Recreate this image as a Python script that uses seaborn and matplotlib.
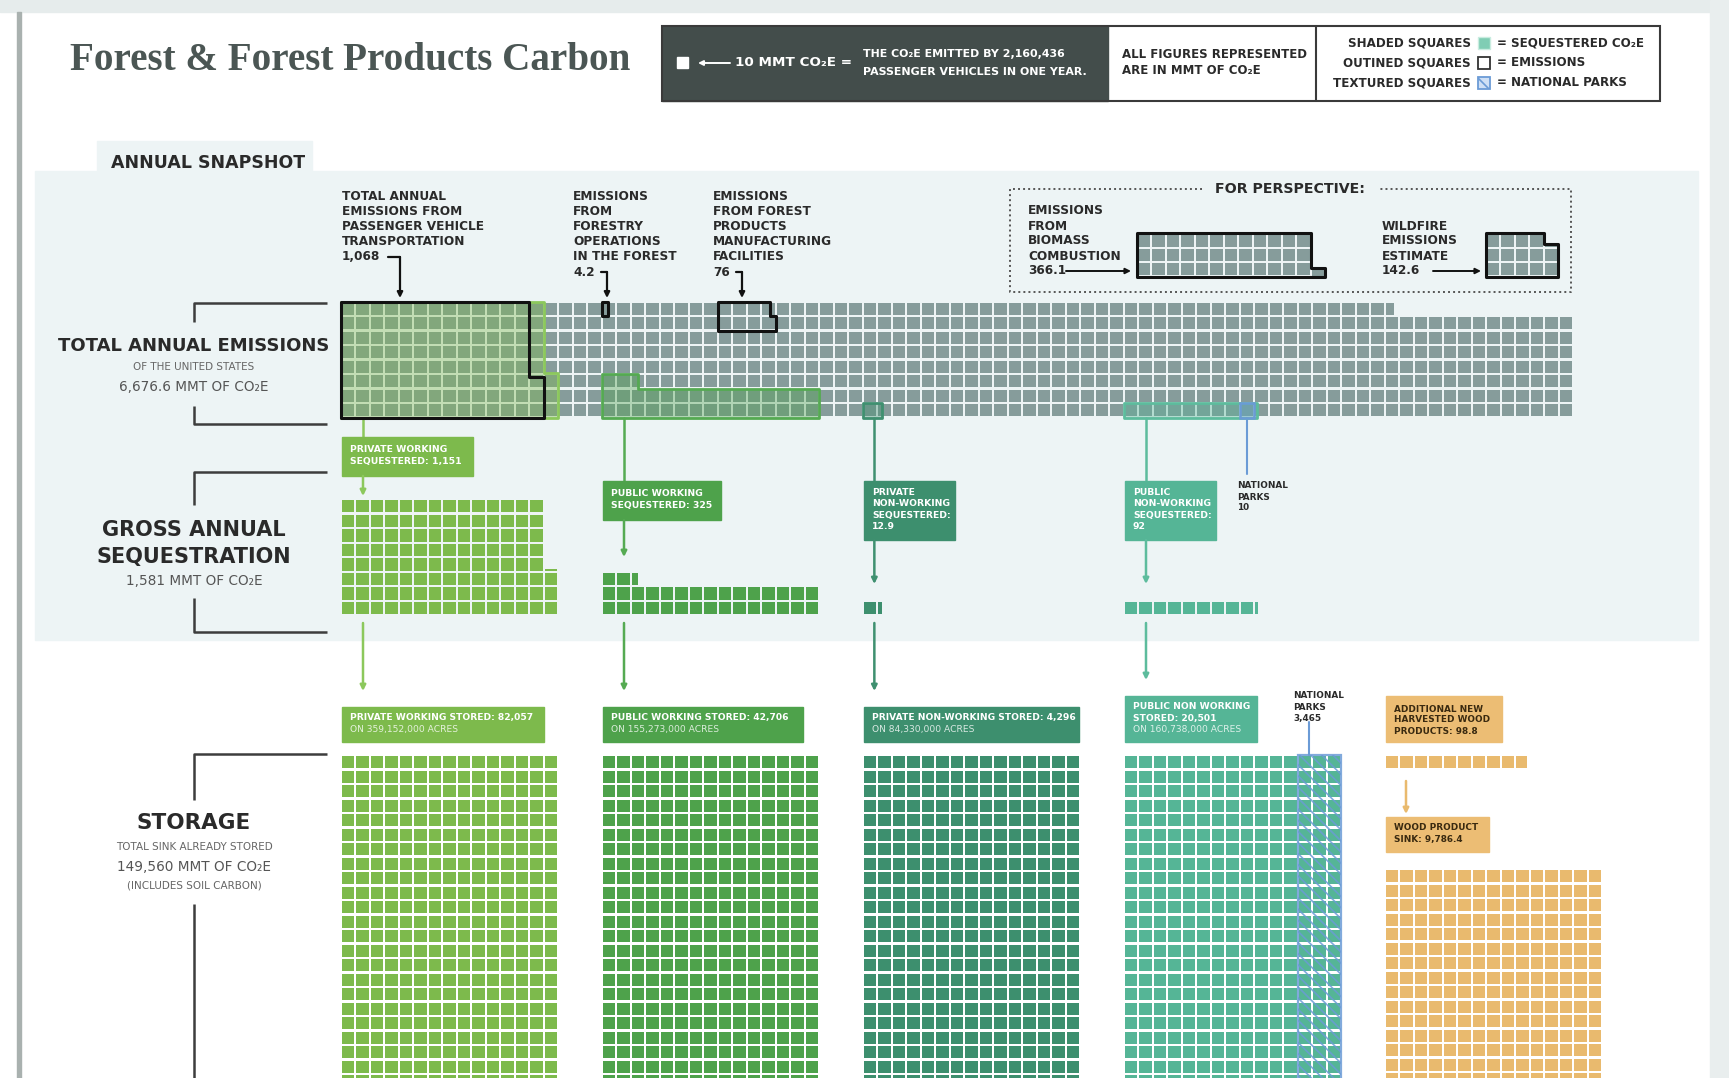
import numpy as np
import pandas as pd
import matplotlib.pyplot as plt
from matplotlib.patches import Rectangle, Polygon
import seaborn as sns

# All figures in MMT of CO2e, one square = 10 MMT
unit = 10
total_emissions = 6676.6
emission_values = [1068, 4.2, 76]          # passenger vehicles, forestry ops, forest products mfg
perspective_values = [366.1, 142.6]        # biomass combustion, wildfire
land_types = ['PRIVATE WORKING', 'PUBLIC WORKING', 'PRIVATE NON-WORKING', 'PUBLIC NON-WORKING']
sequestered = [1151, 325, 12.9, 92]
stored = [82057, 42706, 4296, 20501]
acres = [359152000, 155273000, 84330000, 160738000]
parks_sequestered = 10
parks_stored = 3465
wood_new = 98.8
wood_sink = 9786.4
gross_sequestration = 1581
total_stored = 149560

land_colors = ['#7dba4c', '#4ea24b', '#3d8f6e', '#55b596']
line_colors = ['#8cc85c', '#55aa52', '#3f9070', '#5dbc9d']
emis_color = '#869c9b'
parks_color = '#6b9bd6'
wood_color = '#e9ba6e'
dark = '#2a2a2a'


def fmt(v):
    return f"{v:,}"


sns.set_style('white')
plt.rcParams['font.family'] = ['DejaVu Sans']
plt.rcParams['hatch.linewidth'] = 1.2
plt.rcParams['hatch.color'] = parks_color

W, H = 1729, 1078
P, S = 14.5, 12.3          # square pitch and side (px)
G = P - S

fig = plt.figure(figsize=(W / 100, H / 100), dpi=100)
ax = fig.add_axes([0, 0, 1, 1])

# page background
ax.add_patch(Rectangle((0, 0), W, 12, color='#e6ecec', zorder=0))
ax.add_patch(Rectangle((1710, 0), 19, H, color='#e9eeee', zorder=0))
ax.add_patch(Rectangle((17, 12), 4, H, color='#a9b1af', zorder=0))
ax.add_patch(Rectangle((35, 171), 1663, 469, color='#edf4f5', zorder=0))
ax.add_patch(Rectangle((97, 141), 215, 35, color='#edf4f5', zorder=0))

recs = []
parts = []


def place(n, span, order, x0, y0, c0=0, r0=0, up=True, group=''):
    full = int(n)
    frac = n - full
    count = full + (1 if frac > 0.01 else 0)
    for i in range(count):
        f = 1.0 if i < full else frac
        if order == 'row':
            c, r = i % span, i // span
        else:
            c, r = i // span, i % span
        c += c0
        r += r0
        left = x0 + c * P
        top = y0 - r * P - S if up else y0 + r * P
        if top > H:
            break
        if f == 1.0:
            recs.append((left + S / 2, top + S / 2, group))
        elif order == 'row':
            parts.append((left, top, f * S, S, group))
        else:
            parts.append((left, top + (1 - f) * S, S, f * S, group))


def outline(n, span, order, x0, y0, c0=0, r0=0):
    k = int(n // span)
    rem = n - k * span
    if order == 'row':
        if k == 0:
            pts = [(0, 0), (rem, 0), (rem, 1), (0, 1)]
        elif rem < 0.01:
            pts = [(0, 0), (span, 0), (span, k), (0, k)]
        else:
            pts = [(0, 0), (span, 0), (span, k), (rem, k), (rem, k + 1), (0, k + 1)]
    else:
        if k == 0:
            pts = [(0, 0), (1, 0), (1, rem), (0, rem)]
        elif rem < 0.01:
            pts = [(0, 0), (k, 0), (k, span), (0, span)]
        else:
            pts = [(0, 0), (k + 1, 0), (k + 1, rem), (k, rem), (k, span), (0, span)]
    return [(x0 + (c0 + a) * P - G / 2, y0 + G / 2 - (r0 + b) * P) for a, b in pts]


groups = ['pw', 'puw', 'pnw', 'punw']
block_cols = [0, 18, 36, 54]
seq_layout = [('col', 8), ('row', 15), ('row', 15), ('row', 15)]
X0 = 342
EMIS_Y = 416.5
SEQ_Y = 614
STORE_Y = 756

# emissions grid
place(total_emissions / unit, 85, 'row', X0, EMIS_Y, group='emis')
# gross sequestration and storage grids
for k in range(4):
    order, span = seq_layout[k]
    place(sequestered[k] / unit, span, order, X0, SEQ_Y, c0=block_cols[k], group=groups[k])
    place(stored[k] / unit, 15, 'row', X0, STORE_Y, c0=block_cols[k], up=False, group=groups[k])
# wood products
place(wood_new / unit, 15, 'row', X0, STORE_Y, c0=72, up=False, group='wood')
place(wood_sink / unit, 15, 'row', X0, 870, c0=72, up=False, group='wood')
# perspective grids
BIO_X, FIRE_X, PERS_Y = 1138, 1487, 275.5
place(perspective_values[0] / unit, 3, 'col', BIO_X, PERS_Y, group='emis')
place(perspective_values[1] / unit, 3, 'col', FIRE_X, PERS_Y, group='emis')

pal = {'emis': emis_color, 'wood': wood_color}
pal.update(dict(zip(groups, land_colors)))

df = pd.DataFrame(recs, columns=['x', 'y', 'group'])
sns.scatterplot(data=df, x='x', y='y', hue='group', palette=pal, marker='s',
                s=(S * 0.72) ** 2, linewidth=0, legend=False, ax=ax, zorder=2)
for left, top, w, h, g in parts:
    ax.add_patch(Rectangle((left, top), w, h, color=pal[g], lw=0, zorder=2))

# sequestration overlays on emissions grid
for k in range(4):
    order, span = seq_layout[k]
    pts = outline(sequestered[k] / unit, span, order, X0, EMIS_Y, c0=block_cols[k])
    ax.add_patch(Polygon(pts, closed=True, facecolor=land_colors[k], alpha=0.38, edgecolor='none', zorder=3))
    ax.add_patch(Polygon(pts, closed=True, fill=False, edgecolor=line_colors[k], lw=2, joinstyle='round', zorder=4))

parks_col = block_cols[3] + int(sequestered[3] / unit) - 1
pts = outline(parks_sequestered / unit, 15, 'row', X0, EMIS_Y, c0=parks_col)
ax.add_patch(Polygon(pts, closed=True, facecolor=parks_color, alpha=0.3, edgecolor='none', zorder=4))
ax.add_patch(Polygon(pts, closed=True, fill=False, edgecolor=parks_color, lw=1.8, zorder=4))

# emission source outlines
src_layout = [(0, 0, 'col', 8), (18, 7, 'row', 15), (26, 6, 'row', 4)]
for v, (c0, r0, order, span) in zip(emission_values, src_layout):
    pts = outline(v / unit, span, order, X0, EMIS_Y, c0=c0, r0=r0)
    ax.add_patch(Polygon(pts, closed=True, fill=False, edgecolor='#111111', lw=2.2, joinstyle='round', zorder=5))
for v, x0 in zip(perspective_values, [BIO_X, FIRE_X]):
    pts = outline(v / unit, 3, 'col', x0, PERS_Y)
    ax.add_patch(Polygon(pts, closed=True, fill=False, edgecolor='#111111', lw=2.2, joinstyle='round', zorder=5))

# national parks hatched storage columns
np_cols = round(15 * parks_stored / stored[3])
hx0 = X0 + (block_cols[3] + 15 - np_cols) * P - G / 2
ax.add_patch(Rectangle((hx0, STORE_Y - G / 2), np_cols * P, H, facecolor='none', edgecolor=parks_color,
                       hatch='\\\\\\', lw=1.6, alpha=0.85, zorder=4))


def lines(x, y0, step, txt, **kw):
    for i, t in enumerate(txt.split('\n')):
        ax.text(x, y0 + i * step, t, va='center', zorder=6, **kw)


def arrow(x0, y0, x1, y1, color, lw=1.5, ms=9):
    ax.annotate('', xy=(x1, y1), xytext=(x0, y0), zorder=6,
                arrowprops=dict(arrowstyle='-|>', color=color, lw=lw, mutation_scale=ms, shrinkA=0, shrinkB=0))


# title and legend bar
ax.text(70, 60, 'Forest & Forest Products Carbon', family='Liberation Serif', fontsize=28.2,
        fontweight='bold', color='#4b5654', va='center', ha='left')
ax.add_patch(Rectangle((662, 26), 446, 75, color='#434d4b', zorder=1))
ax.add_patch(Rectangle((662, 26), 998, 75, fill=False, edgecolor='#3a3a3a', lw=1.5, zorder=2))
ax.plot([1316, 1316], [26, 101], color='#3a3a3a', lw=1.5, zorder=2)
ax.add_patch(Rectangle((677, 57), 11, 11, color='white', zorder=3))
arrow(730, 63, 698, 63, 'white', lw=1.4, ms=7)
ax.text(735, 63, f'{unit} MMT CO₂E =', color='white', fontsize=9.7, fontweight='bold', va='center', zorder=6)
lines(863, 54, 18, 'THE CO₂E EMITTED BY 2,160,436\nPASSENGER VEHICLES IN ONE YEAR.',
      color='white', fontsize=7.9, fontweight='bold')
lines(1122, 54, 17, 'ALL FIGURES REPRESENTED\nARE IN MMT OF CO₂E', color=dark, fontsize=8.5, fontweight='bold')
leg_rows = [('SHADED SQUARES', '= SEQUESTERED CO₂E'), ('OUTINED SQUARES', '= EMISSIONS'),
            ('TEXTURED SQUARES', '= NATIONAL PARKS')]
for i, (a, b) in enumerate(leg_rows):
    y = 43 + i * 20
    ax.text(1471, y, a, ha='right', va='center', fontsize=8.6, fontweight='bold', color=dark, zorder=6)
    ax.text(1497, y, b, ha='left', va='center', fontsize=8.6, fontweight='bold', color=dark, zorder=6)
ax.add_patch(Rectangle((1478, 37), 12, 12, facecolor='#80cdb4', edgecolor='#c9ece0', lw=1, zorder=6))
ax.add_patch(Rectangle((1478, 57), 12, 12, facecolor='white', edgecolor='#333333', lw=1.3, zorder=6))
ax.add_patch(Rectangle((1478, 77), 12, 12, facecolor='#cfe0f5', edgecolor=parks_color, hatch='\\\\',
                       lw=1.3, zorder=6))

# section headings
ax.text(111, 163, 'ANNUAL SNAPSHOT', fontsize=12.5, fontweight='bold', color=dark, va='center', zorder=6)


def bracket(y_top, y_mid_top, y_mid_bot, y_bot):
    kw = dict(color='#3d3d3d', lw=1.8, zorder=6, solid_capstyle='butt')
    ax.plot([327, 194, 194], [y_top, y_top, y_mid_top], **kw)
    if y_bot is not None:
        ax.plot([194, 194, 327], [y_mid_bot, y_bot, y_bot], **kw)
    else:
        ax.plot([194, 194], [y_mid_bot, H], **kw)


bracket(303, 322, 406, 424)
ax.text(194, 346, 'TOTAL ANNUAL EMISSIONS', ha='center', va='center', fontsize=13, fontweight='bold', color=dark)
ax.text(194, 367, 'OF THE UNITED STATES', ha='center', va='center', fontsize=7.5, color='#666666')
ax.text(194, 387, f'{fmt(total_emissions)} MMT OF CO₂E', ha='center', va='center', fontsize=9.8, color='#555555')

bracket(472, 505, 598, 632)
ax.text(194, 530, 'GROSS ANNUAL', ha='center', va='center', fontsize=15, fontweight='bold', color=dark)
ax.text(194, 557, 'SEQUESTRATION', ha='center', va='center', fontsize=15, fontweight='bold', color=dark)
ax.text(194, 581, f'{fmt(gross_sequestration)} MMT OF CO₂E', ha='center', va='center', fontsize=9.8,
        color='#555555')

bracket(754, 800, 904, None)
ax.text(194, 823, 'STORAGE', ha='center', va='center', fontsize=15.5, fontweight='bold', color=dark)
ax.text(194, 847, 'TOTAL SINK ALREADY STORED', ha='center', va='center', fontsize=7.5, color='#666666')
ax.text(194, 867, f'{fmt(total_stored)} MMT OF CO₂E', ha='center', va='center', fontsize=9.8, color='#555555')
ax.text(194, 885, '(INCLUDES SOIL CARBON)', ha='center', va='center', fontsize=7.5, color='#666666')

# emission source annotations
small = dict(fontsize=8.7, fontweight='bold', color=dark)
lines(342, 196, 15.2, 'TOTAL ANNUAL\nEMISSIONS FROM\nPASSENGER VEHICLE\nTRANSPORTATION\n'
      + fmt(emission_values[0]), **small)
lines(573, 196, 15.2, 'EMISSIONS\nFROM\nFORESTRY\nOPERATIONS\nIN THE FOREST\n' + fmt(emission_values[1]), **small)
lines(713, 196, 15.2, 'EMISSIONS\nFROM FOREST\nPRODUCTS\nMANUFACTURING\nFACILITIES\n' + fmt(emission_values[2]),
      **small)
for (xa, xb, y) in [(388, 400, 257), (601, 607, 272), (736, 742, 272)]:
    ax.plot([xa, xb], [y, y], color='#111111', lw=1.6, zorder=6)
    arrow(xb, y, xb, 298, '#111111', lw=1.6, ms=8)

# for perspective box
dot = dict(color='#555555', lw=1.4, ls=(0, (1, 1.6)), zorder=6)
ax.plot([1202, 1010, 1010, 1571, 1571, 1380], [189, 189, 292, 292, 189, 189], **dot)
ax.text(1290, 189, 'FOR PERSPECTIVE:', ha='center', va='center', fontsize=10.2, fontweight='bold', color=dark)
lines(1028, 211, 15, 'EMISSIONS\nFROM\nBIOMASS\nCOMBUSTION\n' + fmt(perspective_values[0]), **small)
lines(1382, 226, 15, 'WILDFIRE\nEMISSIONS\nESTIMATE\n' + fmt(perspective_values[1]), **small)
arrow(1066, 271, 1131, 271, '#111111', lw=1.4, ms=8)
arrow(1433, 271, 1481, 271, '#111111', lw=1.4, ms=8)

# sequestration labels and connectors
seq_text = [f'PRIVATE WORKING\nSEQUESTERED: {fmt(sequestered[0])}',
            f'PUBLIC WORKING\nSEQUESTERED: {fmt(sequestered[1])}',
            f'PRIVATE\nNON-WORKING\nSEQUESTERED:\n{fmt(sequestered[2])}',
            f'PUBLIC\nNON-WORKING\nSEQUESTERED:\n{fmt(sequestered[3])}']
seq_boxes = [(437, 476, 131), (481, 520, 118), (481, 540, 91), (481, 540, 91)]
seq_tips = [496, 557, 584, 584]
store_text = [f'PRIVATE WORKING STORED: {fmt(stored[0])}', f'PUBLIC WORKING STORED: {fmt(stored[1])}',
              f'PRIVATE NON-WORKING STORED: {fmt(stored[2])}', f'PUBLIC NON WORKING\nSTORED: {fmt(stored[3])}']
store_boxes = [(707, 742, 202), (707, 742, 200), (707, 742, 215), (696, 742, 132)]
for k in range(4):
    bx = X0 + block_cols[k] * P
    lx = bx + min(21, sequestered[k] / unit * P / 2 + 1)
    top, bot, w = seq_boxes[k]
    ax.plot([lx, lx], [EMIS_Y + G / 2, top], color=line_colors[k], lw=1.8, zorder=3)
    ax.add_patch(Rectangle((bx, top), w, bot - top, color=land_colors[k], zorder=5))
    nl = seq_text[k].count('\n') + 1
    step = 11.6
    lines(bx + 8, (top + bot) / 2 - step * (nl - 1) / 2 - 1, step, seq_text[k], color='white',
          fontsize=6.7, fontweight='bold')
    arrow(lx, bot, lx, seq_tips[k], line_colors[k], lw=1.8, ms=8)
    # down to storage
    stop, sbot, sw = store_boxes[k]
    arrow(lx, SEQ_Y + 9, lx, stop - 16, line_colors[k], lw=1.8, ms=8)
    ax.add_patch(Rectangle((bx, stop), sw, sbot - stop, color=land_colors[k], zorder=5))
    txt = store_text[k] + f'\nON {fmt(acres[k])} ACRES'
    nl = txt.count('\n') + 1
    ys = (stop + sbot) / 2 - 11.3 * (nl - 1) / 2 - 1
    for i, t in enumerate(txt.split('\n')):
        last = i == nl - 1
        ax.text(bx + 8, ys + i * 11.3, t, va='center', color='white', alpha=0.8 if last else 1,
                fontsize=6.6, fontweight='normal' if last else 'bold', zorder=6)

# national parks notes
px = X0 + parks_col * P + S / 2
ax.plot([px, px], [EMIS_Y + G / 2, 474], color=parks_color, lw=1.5, zorder=3)
lines(1237, 486, 11, f'NATIONAL\nPARKS\n{fmt(parks_sequestered)}', color=dark, fontsize=6.4, fontweight='bold')
ax.plot([1309, 1309], [722, STORE_Y - 1], color=parks_color, lw=1.5, zorder=3)
lines(1293, 696, 11, f'NATIONAL\nPARKS\n{fmt(parks_stored)}', color=dark, fontsize=6.4, fontweight='bold')

# wood products
ax.add_patch(Rectangle((1386, 696), 116, 46, color='#ecbd74', zorder=5))
lines(1394, 709, 11, f'ADDITIONAL NEW\nHARVESTED WOOD\nPRODUCTS: {fmt(wood_new)}', color='#3a2a10',
      fontsize=6.4, fontweight='bold')
arrow(1406, 781, 1406, 814, wood_color, lw=1.8, ms=8)
ax.add_patch(Rectangle((1386, 817), 103, 35, color='#ecbd74', zorder=5))
lines(1394, 828, 11.5, f'WOOD PRODUCT\nSINK: {fmt(wood_sink)}', color='#3a2a10', fontsize=6.4, fontweight='bold')

ax.set_xlim(0, W)
ax.set_ylim(H, 0)
ax.axis('off')
fig.savefig('out.png', dpi=100, facecolor='white')
